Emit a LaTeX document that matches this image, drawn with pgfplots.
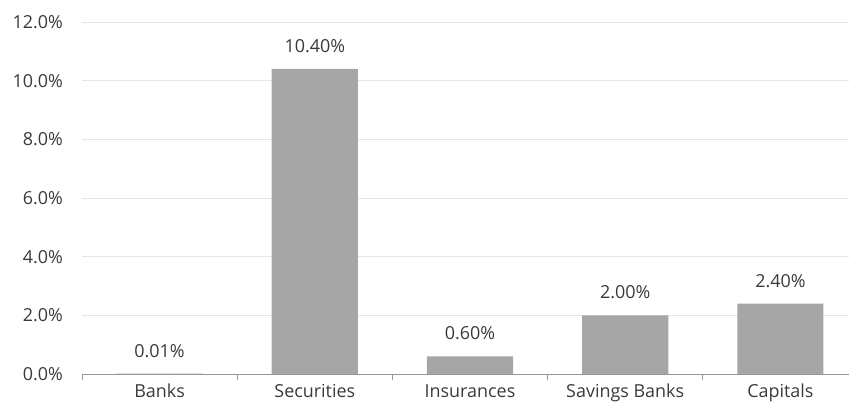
\documentclass[border=0pt]{standalone}
\usepackage{pgfplots}
\pgfplotsset{compat=1.18}
\usepackage{fontspec}
\setmainfont{Open Sans}
\definecolor{bargray}{RGB}{166,166,166}
\definecolor{gridgray}{RGB}{230,230,230}
\definecolor{axisgray}{RGB}{150,150,150}
\definecolor{txt}{RGB}{58,58,58}
\begin{document}
\begin{tikzpicture}
\path[use as bounding box] (-82bp,-34bp) rectangle (767bp,374bp);
\begin{axis}[
  at={(0,0)}, anchor=south west,
  scale only axis,
  width=776bp, height=352bp,
  xmin=-0.5, xmax=4.5,
  ymin=0, ymax=12,
  axis line style={draw=none},
  axis x line*=bottom,
  axis y line*=left,
  ytick={0,2,4,6,8,10,12},
  yticklabels={0.0\%,2.0\%,4.0\%,6.0\%,8.0\%,10.0\%,12.0\%},
  ymajorgrids,
  grid style={gridgray, line width=0.8bp},
  xtick={0,1,2,3,4},
  xticklabels={Banks,Securities,Insurances,Savings Banks,Capitals},
  minor xtick={-0.5,0.5,1.5,2.5,3.5,4.5},
  major tick length=0pt,
  minor tick length=6bp,
  tick align=outside,
  minor tick style={axisgray, line width=0.8bp},
  tick label style={font=\fontsize{18}{21}\selectfont, text=txt},
  xticklabel style={inner sep=0pt, anchor=north, yshift=-10bp},
  yticklabel style={inner sep=0pt, anchor=east, xshift=-19bp},
  ybar, bar width=0.555,
  nodes near coords={\pgfmathprintnumber[fixed,fixed zerofill,precision=2,assume math mode=true]{\pgfplotspointmeta}\%},
  every node near coord/.append style={font=\fontsize{18}{21}\selectfont, text=txt, inner sep=0pt, anchor=south, yshift=16bp},
  clip=false,
]
\addplot[fill=bargray, draw=none] coordinates {(0,0.01) (1,10.4) (2,0.6) (3,2.0) (4,2.4)};
\draw[axisgray, line width=0.9bp] (axis cs:-0.5,0) -- (axis cs:4.5,0);
\end{axis}
\end{tikzpicture}
\end{document}
